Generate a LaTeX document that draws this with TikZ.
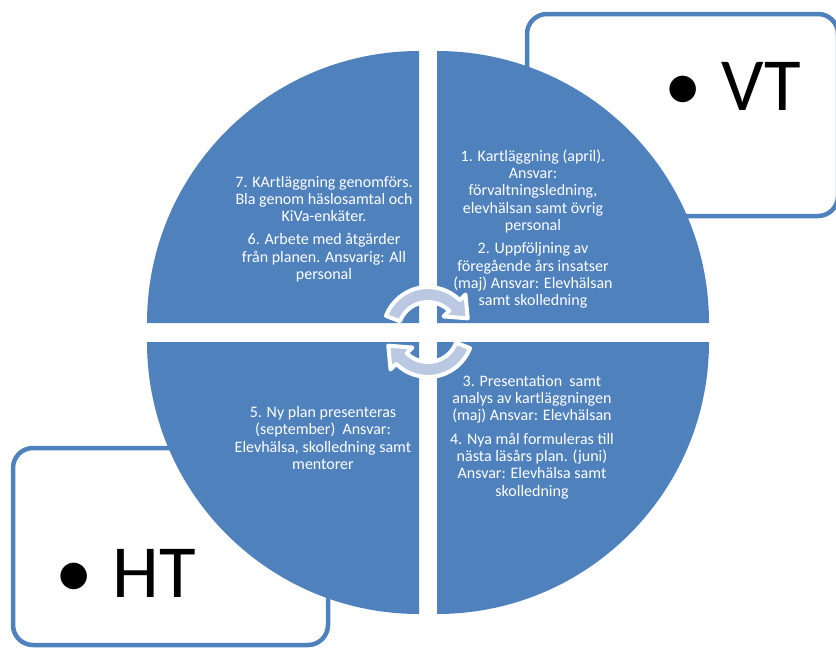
\documentclass[tikz,border=0pt]{standalone}
\usepackage{fontspec}
\setmainfont{Carlito}
\definecolor{officeblue}{RGB}{79,129,189}
\definecolor{cyclefill}{RGB}{186,200,226}

\begin{document}
\begin{tikzpicture}[
  x=1pt, y=-1pt,
  quarter/.style={fill=officeblue},
  season/.style={draw=officeblue, line width=4.5pt, rounded corners=20pt, fill=white},
  phase/.style={text=white, align=center, inner sep=0pt, font=\fontsize{16}{17.3}\selectfont},
  term/.style={anchor=base west, inner sep=0pt, font=\fontsize{75}{80}\selectfont},
  cyc/.style={fill=cyclefill, draw=white, line width=4pt, line join=round}
]
  \useasboundingbox (0,0) rectangle (836,648);
  \draw[season] (527,14) rectangle (838,216);
  \draw[season] (13,448) rectangle (328,645);
  \node[term] (vt) at (664,110) {\textbullet\hspace{20pt}VT};
  \node[term] (ht) at (55,597) {\textbullet\hspace{20pt}HT};

  \fill[quarter] (419,323) -- (147,323) arc[start angle=180, end angle=270, radius=272] -- cycle;
  \fill[quarter] (437,323) -- (437,51) arc[start angle=270, end angle=360, radius=272] -- cycle;
  \fill[quarter] (437,342) -- (709,342) arc[start angle=0, end angle=90, radius=272] -- cycle;
  \fill[quarter] (419,342) -- (419,614) arc[start angle=90, end angle=180, radius=272] -- cycle;

  \node[phase] (q1) at (533,229) {1. Kartläggning (april).\\ Ansvar:\\ förvaltningsledning,\\ elevhälsan samt övrig\\ personal\\[6pt] 2. Uppföljning av\\ föregående års insatser\\ (maj) Ansvar: Elevhälsan\\ samt skolledning};
  \node[phase] (q2) at (532,437) {3. Presentation~ samt\\ analys av kartläggningen\\ (maj) Ansvar: Elevhälsan\\[6pt] 4. Nya mål formuleras till\\ nästa läsårs plan. (juni)\\ Ansvar: Elevhälsa samt\\ skolledning};
  \node[phase] (q3) at (323,438) {5. Ny plan presenteras\\ (september)~ Ansvar:\\ Elevhälsa, skolledning samt\\ mentorer};
  \node[phase] (q4) at (324,229) {7. KArtläggning genomförs.\\ Bla genom häslosamtal och\\ KiVa-enkäter.\\[6pt] 6. Arbete med åtgärder\\ från planen. Ansvarig: All\\ personal};

  \begin{scope}[shift={(428,332)}]
    \filldraw[cyc] (201:45) arc[start angle=201, end angle=315, radius=45] -- (315:53) -- (341:42) -- (315:22) -- (315:30) arc[start angle=315, end angle=201, radius=30] -- cycle;
    \filldraw[cyc] (21:45) arc[start angle=21, end angle=135, radius=45] -- (135:53) -- (161:42) -- (135:22) -- (135:30) arc[start angle=135, end angle=21, radius=30] -- cycle;
  \end{scope}
\end{tikzpicture}
\end{document}
